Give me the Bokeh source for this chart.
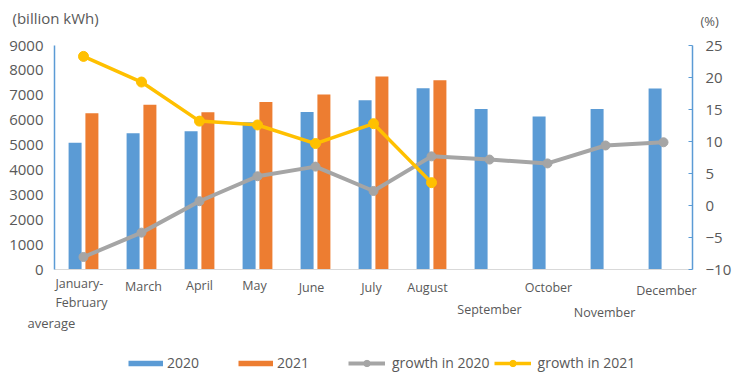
from bokeh.plotting import figure
from bokeh.models import (ColumnDataSource, Range1d, LinearAxis, Legend, LegendItem,
                          LabelSet, Label, FixedTicker)
from bokeh.transform import dodge
from bokeh.core.properties import value
from bokeh.embed import file_html
from bokeh.resources import INLINE

# ---------------- data ----------------
months = ["Jan-Feb", "Mar", "Apr", "May", "Jun", "Jul", "Aug", "Sep", "Oct", "Nov", "Dec"]
month_labels = ["January-\nFebruary", "March", "April", "May", "June", "July",
                "August", "September", "October", "November", "December"]
elec_2020 = [5100, 5480, 5560, 5920, 6330, 6800, 7280, 6450, 6150, 6450, 7270]
elec_2021 = [6280, 6620, 6320, 6730, 7030, 7760, 7610]
growth_2020 = [-8.0, -4.2, 0.7, 4.6, 6.1, 2.3, 7.7, 7.2, 6.6, 9.4, 9.9]
growth_2021 = [23.3, 19.3, 13.2, 12.6, 9.7, 12.8, 3.6]
left_ticks = [0, 1000, 2000, 3000, 4000, 5000, 6000, 7000, 8000, 9000]
right_ticks = [-10, -5, 0, 5, 10, 15, 20, 25]

# ---------------- style / layout ----------------
W, H = 733, 378
BLUE = "#5B9BD5"
ORANGE = "#ED7D31"
GRAY = "#A5A5A5"
YELLOW = "#FFC000"
TXT = "#595959"
FONT = "Open Sans"
PLOT_L, PLOT_R, PLOT_T, PLOT_B = 54, 692, 45, 269.3   # pixel box of the axes area
# staggered category label placement (pixels below the axis, horizontal nudge)
lab_dy = [23, 17, 16, 16, 18, 18, 18, 40, 18, 43, 21]
lab_dx = [-2, 2, 0, -3, -4, -2, -4, 0, 1, -1, 3]

n = len(months)
xpos = [i + 0.5 for i in range(n)]          # category slots on the x scale
cat_px = (PLOT_R - PLOT_L) / n
x0 = -PLOT_L / cat_px
x1 = x0 + W / cat_px
lmax, rmin, rmax = left_ticks[-1], right_ticks[0], right_ticks[-1]
l_px = (PLOT_B - PLOT_T) / lmax
r_px = (PLOT_B - PLOT_T) / (rmax - rmin)

src20 = ColumnDataSource(dict(x=xpos, m=months, v=elec_2020, g=growth_2020))
src21 = ColumnDataSource(dict(x=xpos[:len(elec_2021)], m=months[:len(elec_2021)],
                              v=elec_2021, g=growth_2021))
srclab = ColumnDataSource(dict(x=xpos, t=month_labels, dy=[-d for d in lab_dy],
                               dx=lab_dx, y=[0] * n))

p = figure(width=W, height=H, x_range=Range1d(x0, x1),
           y_range=Range1d(-(H - PLOT_B) / l_px, lmax + PLOT_T / l_px),
           output_backend="svg", toolbar_location=None,
           min_border=0, min_border_left=0, min_border_right=0,
           min_border_top=0, min_border_bottom=0)
p.extra_y_ranges = {"pct": Range1d(rmin - (H - PLOT_B) / r_px, rmax + PLOT_T / r_px)}
p.outline_line_color = None
p.grid.visible = False
p.background_fill_color = "white"
p.border_fill_color = "white"

p.vbar(x=dodge("x", -0.145), top="v", width=0.224, source=src20,
       fill_color=BLUE, line_color=None)
p.vbar(x=dodge("x", 0.145), top="v", width=0.224, source=src21,
       fill_color=ORANGE, line_color=None)

gl = p.line(x="x", y="g", source=src20, y_range_name="pct", line_color=GRAY, line_width=4)
gs = p.scatter(x="x", y="g", source=src20, y_range_name="pct", size=9,
               fill_color=GRAY, line_color=GRAY)
yl = p.line(x="x", y="g", source=src21, y_range_name="pct", line_color=YELLOW, line_width=3.5)
ys = p.scatter(x="x", y="g", source=src21, y_range_name="pct", size=10,
               fill_color=YELLOW, line_color=YELLOW)

# hidden stand-ins that give the bar series a flat legend swatch
pb = p.line(x="x", y="v", source=src20, line_color=BLUE, line_width=5.5,
            line_cap="butt", visible=False)
po = p.line(x="x", y="v", source=src21, line_color=ORANGE, line_width=5.5,
            line_cap="butt", visible=False)

# axes (drawn at fixed data locations so the plotting area covers the whole canvas)
xa = p.xaxis[0]
xa.fixed_location = 0
xa.bounds = (0, n)
xa.ticker = FixedTicker(ticks=[])
xa.axis_line_color = "#D9D9D9"
xa.axis_line_width = 1.2
xa.major_tick_line_color = None
xa.minor_tick_line_color = None

ya = p.yaxis[0]
ya.fixed_location = 0
ya.bounds = (0, lmax)
ya.ticker = FixedTicker(ticks=left_ticks)
ya.axis_line_color = BLUE
ya.axis_line_width = 1.5
ya.major_tick_in = 0
ya.major_tick_out = 0
ya.minor_tick_line_color = None
ya.major_label_standoff = 11
ya.major_label_text_font = FONT
ya.major_label_text_font_size = "15px"
ya.major_label_text_color = TXT

ra = LinearAxis(y_range_name="pct", ticker=FixedTicker(ticks=right_ticks),
                fixed_location=n, bounds=(rmin, rmax))
ra.axis_line_color = BLUE
ra.axis_line_width = 1.5
ra.major_tick_in = 4
ra.major_tick_out = 0
ra.major_tick_line_color = BLUE
ra.minor_tick_line_color = None
ra.major_label_standoff = 13
ra.major_label_text_font = FONT
ra.major_label_text_font_size = "15px"
ra.major_label_text_color = TXT
p.add_layout(ra, "right")

# category labels
labels = LabelSet(x="x", y="y", text="t", source=srclab, x_offset="dx", y_offset="dy",
                  text_align="center", text_baseline="middle", text_font=value(FONT),
                  text_font_size=value("12.5px"), text_color=TXT, text_line_height=1.15)
p.add_layout(labels)

def note(x, y, text, size):
    p.add_layout(Label(x=x, y=H - y, x_units="screen", y_units="screen", text=text,
                       text_font=FONT, text_font_size=size, text_color=TXT,
                       text_baseline="middle", text_align="left"))

note(12, 17, "(billion kWh)", "15px")
note(700, 20, "(%)", "13px")
note(27, 322, "average", "13px")

def mk_legend(items, x, spacing, standoff, gw):
    lg = Legend(items=items, location=(x, H - 372), orientation="horizontal",
                spacing=spacing, label_standoff=standoff, glyph_width=gw, glyph_height=16,
                label_height=16, padding=0, margin=0, border_line_color=None,
                background_fill_alpha=0, label_text_font=FONT,
                label_text_font_size="14px", label_text_color=TXT)
    p.add_layout(lg)

mk_legend([LegendItem(label="2020", renderers=[pb]), LegendItem(label="2021", renderers=[po])],
          128, 39, 4, 35)
mk_legend([LegendItem(label="growth in 2020", renderers=[gl, gs]),
           LegendItem(label="growth in 2021", renderers=[yl, ys])],
          348, 4, 7, 37)

open("out.html", "w").write(file_html(p, INLINE))
